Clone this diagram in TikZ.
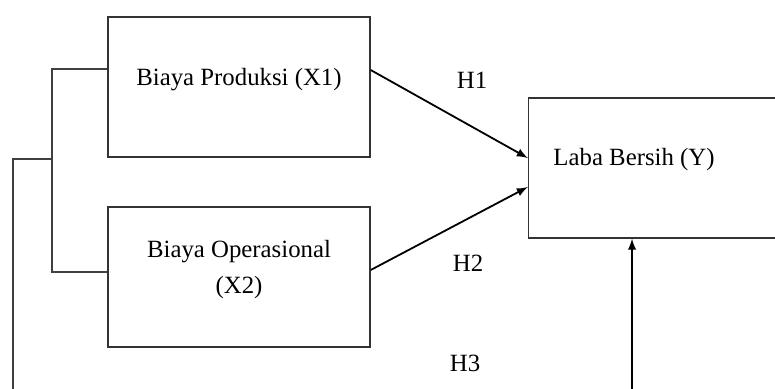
\documentclass[tikz,border=0pt]{standalone}
\usepackage{fontspec}
\setmainfont{Liberation Serif}
\usetikzlibrary{calc, positioning}
\tikzstyle{box}=[draw=black!80, line width=0.7pt, minimum width=131pt, minimum height=70pt, inner sep=0pt]
\tikzstyle{arr}=[-latex, line width=0.9pt]
\tikzstyle{link}=[draw=black!75, line width=0.7pt]

\begin{document}
\begin{tikzpicture}[x=0.5pt, y=-0.5pt, font=\fontsize{12.4}{18}\selectfont]
\useasboundingbox (0,0) rectangle (775,388);
\clip (0,0) rectangle (775,388);
\node [box] (x1) at (239,87){};
\node [box] (x2) at (239,277){};
\node [box] (ly) at (659.5,168){};
%\node at (239,87) {test};
\node (tx1) at (239,80) {Biaya Produksi (X1)};
\node [align=center] (tx2) at (239,270) {Biaya Operasional\\(X2)};
\node (tly) at (634,160) {Laba Bersih (Y)};
\node (h1) at (472,80) {H1}; \node (h2) at (468,263) {H2}; \node (h3) at (465,363) {H3};
\coordinate (br) at (52,159); \coordinate (lft) at (13,159); \coordinate (bot) at (13,395);
\coordinate (yin) at (632,395);
\draw [link] ([yshift=9pt]x1.west) -| (br) |- ([yshift=2.5pt]x2.west);
\draw [link] (br) -- (lft) -- (bot);
\draw [arr] ([yshift=8.5pt]x1.east) -- ([yshift=5pt]ly.west);
\draw [arr] ([yshift=3.5pt]x2.east) -- ([yshift=-9.5pt]ly.west);
\draw [arr] (yin) -- (yin |- ly.south);
\end{tikzpicture}
\end{document}
